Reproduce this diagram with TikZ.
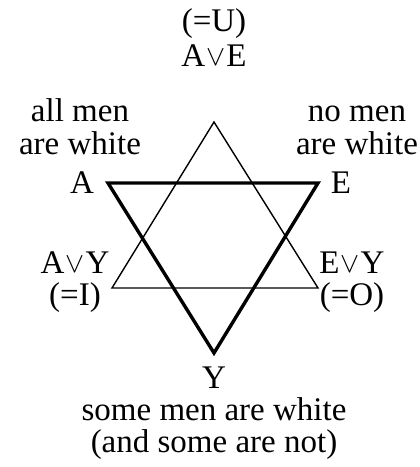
\documentclass[tikz,border=0pt]{standalone}
\usepackage{fontspec}
\setmainfont{Liberation Serif}
\newcommand{\orsym}{\kern1pt\raisebox{0.5pt}{\scalebox{1.15}{$\vee$}}\kern1pt}
\begin{document}
\begin{tikzpicture}[x=1pt,y=-1pt,
  lbl/.style={font=\fontsize{33}{36}\selectfont, inner sep=0pt, align=center,
              text height=22pt, text depth=6pt},
  thin tri/.style={line width=1.4pt, line join=miter},
  thick tri/.style={line width=3.4pt, line join=miter}]
\useasboundingbox (0,0) rectangle (420,467);
% upward (thin) triangle
\coordinate (u1) at (214,122);
\coordinate (u2) at (112,288);
\coordinate (u3) at (318,288);
% downward (thick) triangle
\coordinate (d1) at (108,183);
\coordinate (d2) at (318,183);
\coordinate (d3) at (214,353);
\draw[thin tri] (u1) -- (u2) -- (u3) -- cycle;
\draw[thick tri] (d1) -- (d2) -- (d3) -- cycle;
% labels
\node[lbl] (u) at (214,23) {(=U)};
\node[lbl] (ae) at (214,58) {A\orsym E};
\node[lbl] (all) at (80,113) {all men};
\node[lbl] (allw) at (80,146) {are white};
\node[lbl] (a) at (82,185) {A};
\node[lbl] (no) at (357,113) {no men};
\node[lbl] (now) at (357,146) {are white};
\node[lbl] (e) at (341,185) {E};
\node[lbl] (ay) at (75,265) {A\orsym Y};
\node[lbl] (i) at (75,297) {(=I)};
\node[lbl] (ey) at (352,265) {E\orsym Y};
\node[lbl] (o) at (352,297) {(=O)};
\node[lbl] (y) at (214,380) {Y};
\node[lbl] (some) at (214,412) {some men are white};
\node[lbl] (not) at (214,444) {(and some are not)};
\end{tikzpicture}
\end{document}
